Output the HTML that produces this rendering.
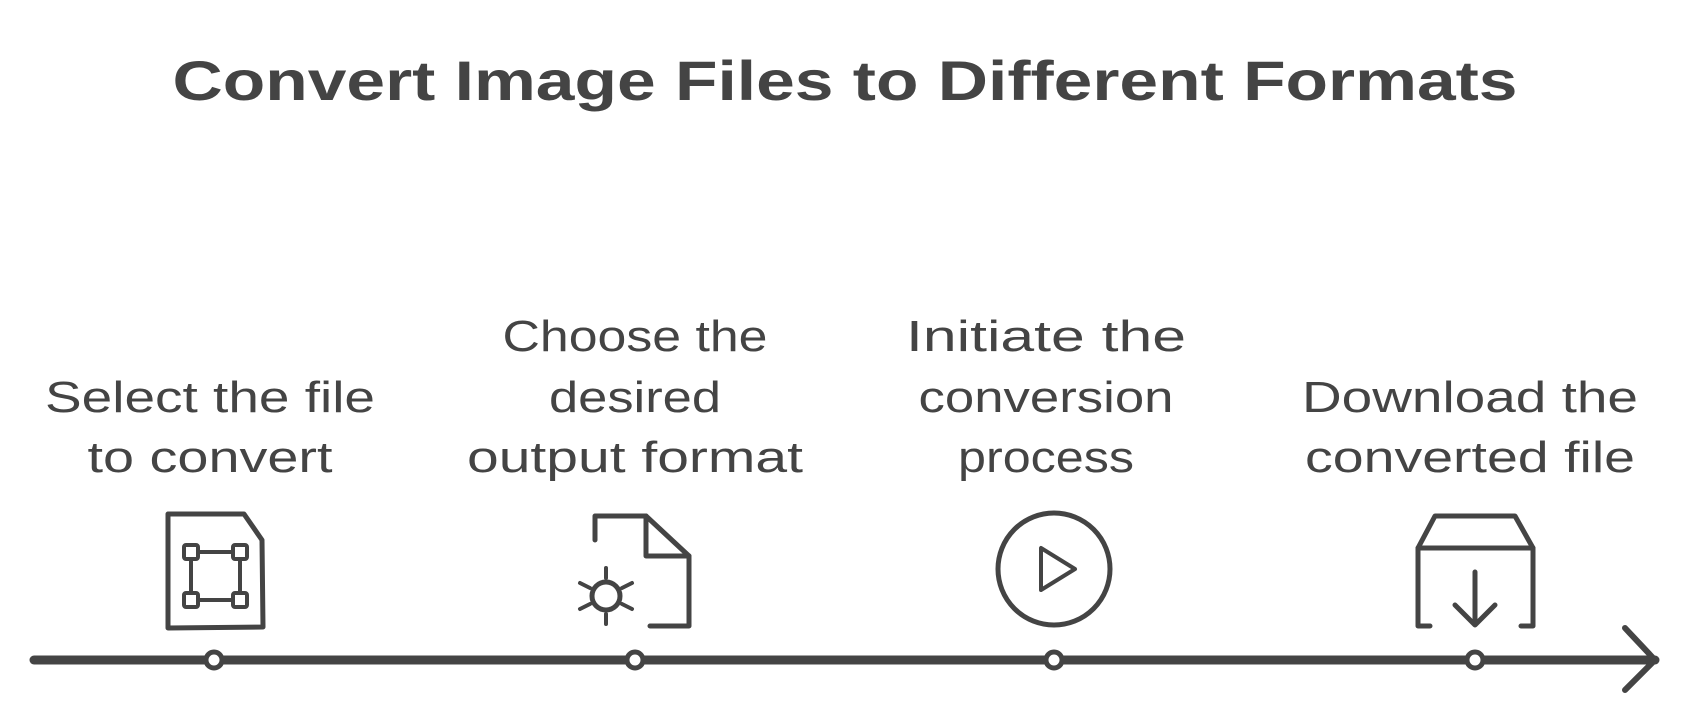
<!DOCTYPE html>
<html><head><meta charset="utf-8"><style>
html,body{margin:0;padding:0;background:#fff;width:1690px;height:725px;overflow:hidden}
</style></head><body>
<svg width="1690" height="725" viewBox="0 0 1690 725" xmlns="http://www.w3.org/2000/svg">
<g font-family="Liberation Sans, sans-serif" fill="#444">
<text x="845" y="100" text-anchor="middle" font-size="56" font-weight="bold" textLength="1345" lengthAdjust="spacingAndGlyphs">Convert Image Files to Different Formats</text>
<g font-size="44" text-anchor="middle">
<text x="210" y="412" textLength="330" lengthAdjust="spacingAndGlyphs">Select the file</text>
<text x="210" y="472" textLength="245" lengthAdjust="spacingAndGlyphs">to convert</text>
<text x="635" y="351" textLength="265" lengthAdjust="spacingAndGlyphs">Choose the</text>
<text x="635" y="412" textLength="172" lengthAdjust="spacingAndGlyphs">desired</text>
<text x="635" y="472" textLength="336" lengthAdjust="spacingAndGlyphs">output format</text>
<text x="1046" y="351" textLength="280" lengthAdjust="spacingAndGlyphs">Initiate the</text>
<text x="1046" y="412" textLength="255" lengthAdjust="spacingAndGlyphs">conversion</text>
<text x="1046" y="472" textLength="176" lengthAdjust="spacingAndGlyphs">process</text>
<text x="1470" y="412" textLength="336" lengthAdjust="spacingAndGlyphs">Download the</text>
<text x="1470" y="472" textLength="330" lengthAdjust="spacingAndGlyphs">converted file</text>
</g>
</g>
<g fill="none" stroke="#444" stroke-width="5" stroke-linecap="round" stroke-linejoin="round">
<!-- timeline -->
<path d="M34 660 L1655 660" stroke-width="9"/>
<path d="M1625 628 L1655 660 L1625 690" stroke-width="6"/>
<!-- icon 1 -->
<path d="M168 514 L244 514 L262 540 L263 627 L168 628 Z"/>
<rect x="184" y="545" width="14" height="14" rx="2" stroke-width="4"/>
<rect x="233" y="545" width="14" height="14" rx="2" stroke-width="4"/>
<rect x="184" y="593" width="14" height="14" rx="2" stroke-width="4"/>
<rect x="233" y="593" width="14" height="14" rx="2" stroke-width="4"/>
<path d="M198 552 L233 552 M198 600 L233 600 M191 559 L191 593 M240 559 L240 593" stroke-width="4"/>
<!-- icon 2 -->
<path d="M595 540 L595 516 L646 516 L646 556 L689 556 L689 626 L650 626"/>
<path d="M646 516 L689 556"/>
<circle cx="606" cy="596" r="14"/>
<path d="M606 568 L606 578 M606 614 L606 624 M580 583 L590 588 M622 604 L632 609 M580 609 L590 604 M622 588 L632 583" stroke-width="4"/>
<!-- icon 3 -->
<circle cx="1054" cy="569" r="56"/>
<path d="M1041 548 L1041 590 L1075 569 Z" stroke-width="4"/>
<!-- icon 4 -->
<path d="M1435 516 L1515 516 L1533 548 L1418 548 Z"/>
<path d="M1418 548 L1418 626 L1430 626 M1533 548 L1533 626 L1521 626"/>
<path d="M1475 572 L1475 625 M1455 605 L1475 625 L1495 605"/>
</g>
<g fill="#fff" stroke="#444" stroke-width="5">
<circle cx="214" cy="660" r="8"/>
<circle cx="635" cy="660" r="8"/>
<circle cx="1054" cy="660" r="8"/>
<circle cx="1475" cy="660" r="8"/>
</g>
</svg>
</body></html>
